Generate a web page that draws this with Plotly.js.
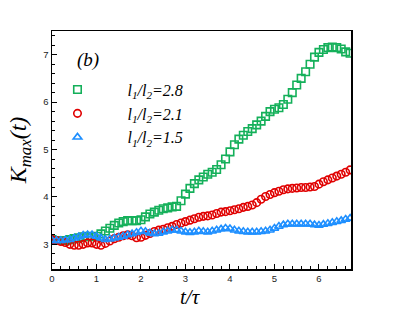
<!DOCTYPE html>
<html><head><meta charset="utf-8">
<script src="https://cdn.plot.ly/plotly-3.0.1.min.js"></script>
<style>html,body{margin:0;padding:0;background:#fff}#plot{width:399px;height:310px}</style>
</head><body><div id="plot"></div>
<script>
var t = [0,0.1,0.2,0.3,0.4,0.5,0.6,0.7,0.8,0.9,1.0,1.1,1.2,1.3,1.4,1.5,1.6,1.7,1.8,1.9,2.0,2.1,2.2,2.3,2.4,2.5,2.6,2.7,2.8,2.9,3.0,3.1,3.2,3.3,3.4,3.5,3.6,3.7,3.8,3.9,4.0,4.1,4.2,4.3,4.4,4.5,4.6,4.7,4.8,4.9,5.0,5.1,5.2,5.3,5.4,5.5,5.6,5.7,5.8,5.9,6.0,6.1,6.2,6.3,6.4,6.5,6.6,6.7];
var k28 = [3.1,3.08,3.08,3.08,3.1,3.12,3.14,3.16,3.17,3.16,3.17,3.22,3.28,3.34,3.4,3.45,3.48,3.5,3.5,3.5,3.52,3.58,3.64,3.68,3.72,3.75,3.77,3.79,3.8,3.92,4.06,4.18,4.28,4.36,4.42,4.48,4.52,4.58,4.68,4.8,4.95,5.1,5.22,5.3,5.38,5.44,5.52,5.6,5.7,5.8,5.85,5.88,5.95,6.06,6.2,6.36,6.5,6.64,6.8,6.95,7.05,7.11,7.15,7.16,7.15,7.12,7.06,7.03];
var k21 = [3.1,3.08,3.06,3.04,3.0,2.98,2.98,3.0,3.03,3.03,3.0,2.98,3.02,3.07,3.12,3.15,3.18,3.2,3.18,3.14,3.15,3.19,3.23,3.27,3.3,3.32,3.35,3.38,3.42,3.45,3.48,3.51,3.54,3.57,3.59,3.6,3.62,3.65,3.68,3.69,3.71,3.73,3.75,3.78,3.8,3.83,3.88,3.95,4.01,4.05,4.09,4.12,4.15,4.17,4.18,4.19,4.2,4.2,4.21,4.22,4.27,4.32,4.36,4.4,4.44,4.48,4.52,4.57];
var k15 = [3.08,3.08,3.08,3.09,3.1,3.13,3.16,3.19,3.2,3.2,3.17,3.13,3.1,3.11,3.13,3.15,3.17,3.2,3.22,3.25,3.28,3.27,3.24,3.22,3.23,3.26,3.28,3.3,3.3,3.28,3.26,3.25,3.26,3.28,3.27,3.26,3.28,3.3,3.32,3.34,3.33,3.3,3.28,3.27,3.26,3.26,3.26,3.27,3.28,3.3,3.34,3.38,3.41,3.43,3.43,3.43,3.43,3.43,3.43,3.41,3.4,3.42,3.44,3.46,3.48,3.5,3.53,3.55];
var names = ["<i>l<sub>1</sub>/l<sub>2</sub>=2.8</i>","<i>l<sub>1</sub>/l<sub>2</sub>=2.1</i>","<i>l<sub>1</sub>/l<sub>2</sub>=1.5</i>"];
var xTicks = [0,1,2,3,4,5,6];
var yTicks = [3,4,5,6,7];

function tr(y, name, sym, col){
  return {x:t, y:y, name:name, type:'scatter', mode:'markers',
    marker:{symbol:sym, size:7.5, color:col, line:{color:col, width:1.6}}};
}
var data = [
  tr(k28, names[0], 'square-open', '#14b05a'),
  tr(k21, names[1], 'circle-open', '#e00000'),
  tr(k15, names[2], 'triangle-up-open', '#1e8fff')
];
var serif = 'Liberation Serif, Times New Roman';
var axBase = {showgrid:false, zeroline:false, showline:true, linecolor:'#000', linewidth:1.5, mirror:true,
  ticks:'inside', ticklen:5, tickwidth:1, tickcolor:'#000',
  tickfont:{family:'Liberation Sans, Arial', size:9.5, color:'#222'},
  minor:{ticks:'inside', ticklen:3, tickwidth:1, tickcolor:'#000', dtick:0.2}};
var layout = {
  width:399, height:310, margin:{l:52, r:48, t:31, b:41},
  paper_bgcolor:'#fff', plot_bgcolor:'#fff',
  showlegend:true,
  legend:{x:-0.082, y:0.825, xanchor:'left', yanchor:'top', bgcolor:'rgba(0,0,0,0)',
    font:{family:serif, size:16, color:'#000'}, itemwidth:90, tracegroupgap:0},
  xaxis:Object.assign({}, axBase, {range:[0,6.72], tickvals:xTicks}),
  yaxis:Object.assign({}, axBase, {range:[2.48,7.5], tickvals:yTicks,
    title:{text:'<i>K<sub>max</sub>(t)</i>', font:{family:serif, size:24, color:'#000'}, standoff:10}}),
  annotations:[
    {xref:'paper', yref:'paper', x:0.12, y:0.878, xanchor:'center', yanchor:'middle', text:'<i>(b)</i>', showarrow:false,
     font:{family:serif, size:19, color:'#000'}},
    {xref:'paper', yref:'paper', x:0.463, y:0, xanchor:'center', yanchor:'middle', yshift:-28, text:'<i>t/τ</i>', showarrow:false,
     font:{family:serif, size:21, color:'#000'}}
  ]
};
Plotly.newPlot('plot', data, layout, {displayModeBar:false, staticPlot:true});
</script></body></html>
